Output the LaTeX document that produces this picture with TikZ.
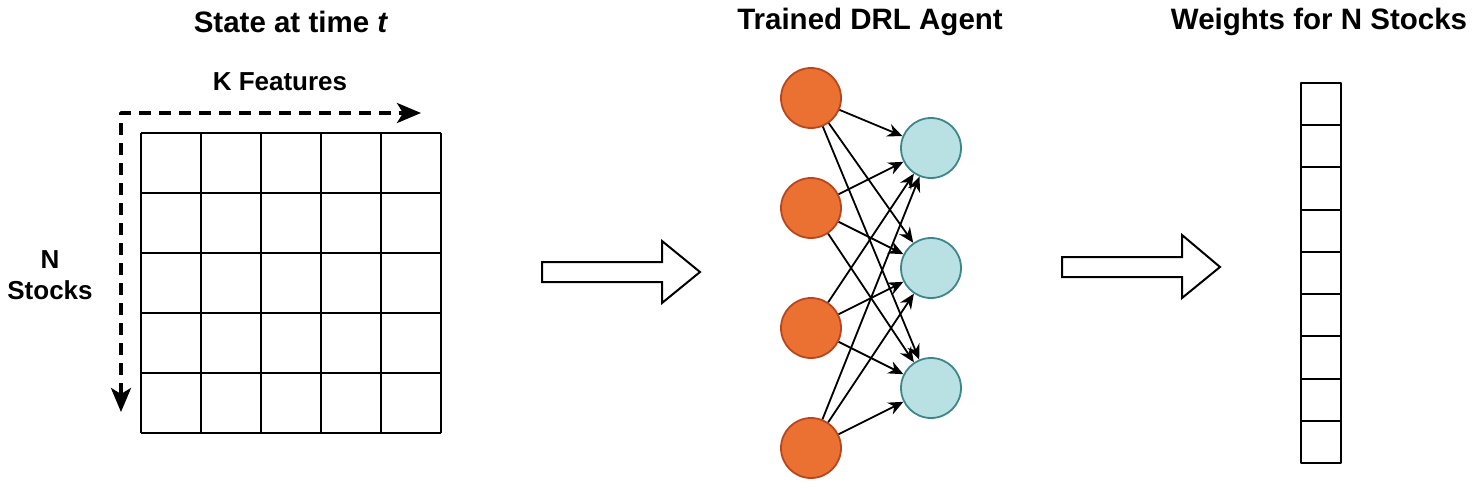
\documentclass[tikz,border=0pt]{standalone}
\usepackage{fontspec}
\setmainfont{Liberation Sans}
\usetikzlibrary{arrows.meta}
\definecolor{inorange}{HTML}{EB7132}
\definecolor{inedge}{HTML}{B9461E}
\definecolor{outteal}{HTML}{B9E1E4}
\definecolor{outedge}{HTML}{3D8689}
\tikzset{
	heading/.style={font=\bfseries\fontsize{29.5}{33}\selectfont},
	axislabel/.style={font=\bfseries\fontsize{26}{31}\selectfont},
	inneuron/.style={circle, draw=inedge, fill=inorange, line width=1.8pt, minimum size=60pt, inner sep=0pt},
	outneuron/.style={circle, draw=outedge, fill=outteal, line width=1.8pt, minimum size=60pt, inner sep=0pt},
	blockarrow/.style={draw, fill=white, line width=2pt, line join=miter},
}
\begin{document}
\begin{tikzpicture}[x=1pt, y=-1pt, line join=round, >={Stealth[length=15pt,width=13pt]}]
	\useasboundingbox (0,0) rectangle (1482,490);
	% titles
	\node[heading] (ttlstate) at (291,22) {State at time \textit{t}};
	\node[heading] (ttlagent) at (870,22) {Trained DRL Agent};
	\node[heading] (ttlweights) at (1319,22) {Weights for N Stocks};
	% state matrix
	\node[axislabel] (kfeat) at (280,82) {K Features};
	\node[axislabel, align=center] (nstocks) at (50,275) {N\\Stocks};
	\foreach \k in {0,...,5} {
		\draw[line width=2pt] (141+60*\k,133) -- (141+60*\k,433);
		\draw[line width=2pt] (141,133+60*\k) -- (441,133+60*\k);
	}
	\coordinate (dright) at (421,113);
	\coordinate (ddown) at (121,412);
	\draw[line width=3.5pt, dash pattern=on 12pt off 8pt, line cap=butt, {Stealth[length=24pt,width=20pt,inset=6pt]}-{Stealth[length=24pt,width=20pt,inset=6pt]}] (ddown) |- (dright);
	% block arrows
	\draw[blockarrow] (542,262) -- (662,262) -- (662,241) -- (700,272) -- (662,303) -- (662,282) -- (542,282) -- cycle;
	\draw[blockarrow] (1062,257) -- (1182,257) -- (1182,235) -- (1220,267) -- (1182,298) -- (1182,277) -- (1062,277) -- cycle;
	% network
	\foreach \y [count=\i] in {98,208,328,448}
		\node[inneuron] (in\i) at (811,\y) {};
	\foreach \y [count=\j] in {148,268,388}
		\node[outneuron] (out\j) at (931,\y) {};
	\foreach \i in {1,...,4}
		\foreach \j in {1,2,3}
			\draw[->, line width=1.8pt] (in\i) -- (out\j);
	% weights column
	\foreach \k in {0,...,8}
		\draw[line width=2pt] (1301,83+42.22*\k) rectangle (1341,83+42.22*\k+42.22);
\end{tikzpicture}
\end{document}
